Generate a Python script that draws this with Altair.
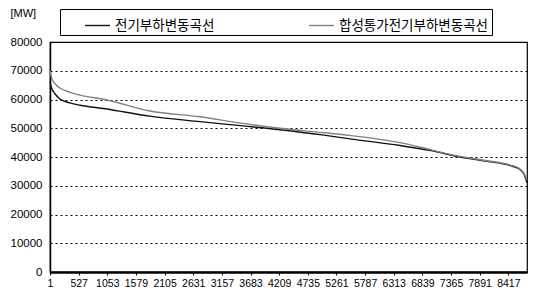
import altair as alt
import pandas as pd

# hours of the year (sorted load duration) at which values were read
hours = [1, 30, 92, 184, 370, 551, 1010, 1836, 2755, 3500, 4224, 5000,
         5509, 6428, 7000, 7529, 8000, 8448, 8600, 8700, 8760]

# 전기부하변동곡선 (black)
load_mw = [66000, 64000, 62000, 60200, 58800, 58000, 56800, 54200, 52300,
           50900, 49500, 47700, 46300, 44000, 42200, 40000, 38600, 37000,
           36000, 34200, 31000]

# 합성통가전기부하변동곡선 (gray)
synth_mw = [70000, 67500, 65500, 64000, 62500, 61500, 60000, 56000, 54000,
            51800, 50000, 48500, 47500, 45000, 42500, 40200, 38800, 37200,
            36200, 34500, 32000]

series_names = ["전기부하변동곡선", "합성통가전기부하변동곡선"]
series_colors = ["#111111", "#808080"]

x_ticks = [1, 527, 1053, 1579, 2105, 2631, 3157, 3683, 4209, 4735, 5261,
           5787, 6313, 6839, 7365, 7891, 8417]
y_ticks = [0, 10000, 20000, 30000, 40000, 50000, 60000, 70000, 80000]

rows = []
for h, a, b in zip(hours, load_mw, synth_mw):
    rows.append({"hour": h, "mw": a, "series": series_names[0]})
    rows.append({"hour": h, "mw": b, "series": series_names[1]})
df = pd.DataFrame(rows)

num_font = "Liberation Sans"
kr_font = "Noto Sans CJK KR"

chart = alt.Chart(df).mark_line(strokeWidth=1.4, interpolate="monotone").encode(
    x=alt.X("hour:Q",
            scale=alt.Scale(domain=[1, 8760], nice=False, zero=False),
            axis=alt.Axis(values=x_ticks, title=None, grid=False, format="d",
                          labelFont=num_font, labelFontSize=10.5,
                          labelColor="#000", labelFlush=False,
                          labelOverlap=False, labelPadding=3,
                          tickSize=3, tickColor="#000",
                          domainColor="#000", domainWidth=2.5)),
    y=alt.Y("mw:Q",
            scale=alt.Scale(domain=[0, 80000], nice=False),
            axis=alt.Axis(values=y_ticks, title="[MW]", format="d",
                          labelFont=num_font, labelFontSize=11.5,
                          labelColor="#000", labelPadding=8,
                          ticks=False, tickSize=0,
                          domainColor="#000", domainWidth=1.5,
                          grid=True, gridColor="#000", gridDash=[2, 3],
                          gridWidth=1, gridOpacity=1,
                          titleAngle=0, titleX=-40, titleY=-29,
                          titleAlign="left", titleBaseline="middle",
                          titleFont=num_font, titleFontSize=11,
                          titleFontWeight="normal", titleColor="#000")),
    color=alt.Color("series:N",
                    scale=alt.Scale(domain=series_names, range=series_colors),
                    sort=series_names,
                    legend=alt.Legend(title=None, orient="none",
                                      legendX=10, legendY=-33,
                                      direction="horizontal",
                                      symbolType="stroke",
                                      symbolSize=625, symbolStrokeWidth=1.4,
                                      symbolOffset=21,
                                      labelFont=kr_font, labelFontSize=13.5,
                                      labelColor="#000", labelOffset=4,
                                      columnPadding=72,
                                      padding=3,
                                      strokeColor="#000",
                                      fillColor="#ffffff",
                                      labelLimit=400)),
).properties(
    width=477,
    height=230,
    autosize="none",
    padding={"left": 42, "top": 34, "right": 12, "bottom": 24},
    background="#ffffff",
).configure_view(
    stroke="#000", strokeWidth=1.2
)

chart.save("out.html", embed_options={"renderer": "svg", "actions": False})
